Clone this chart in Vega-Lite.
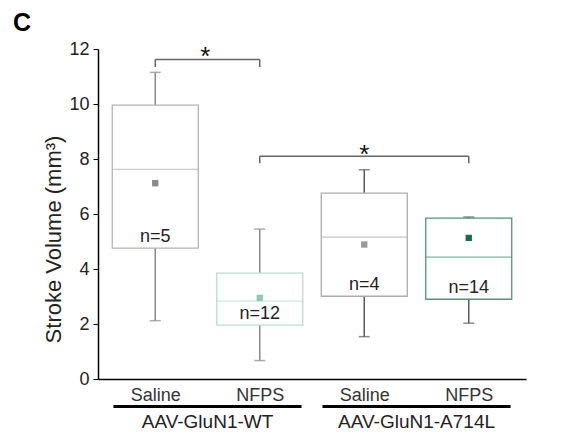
{
  "$schema": "https://vega.github.io/schema/vega-lite/v6.json",
  "autosize": "none",
  "width": 428,
  "height": 330,
  "padding": {"left": 98, "top": 49, "right": 47, "bottom": 57},
  "background": "white",
  "title": {"text": "C", "anchor": "start", "frame": "group", "dx": -85, "offset": 4, "fontSize": 25, "fontWeight": "bold", "font": "Liberation Sans", "color": "black"},
  "config": {"view": {"stroke": null}, "font": "Liberation Sans", "axis": {"labelFontWeight": "normal"}},
  "datasets": {
    "boxes": [
      {"pos": 1, "cond": "WT-Saline", "q1": 4.76, "q3": 9.96, "median": 7.62, "mean": 7.12, "lo": 2.12, "hi": 11.15, "n": "n=5"},
      {"pos": 2, "cond": "WT-NFPS", "q1": 1.96, "q3": 3.85, "median": 2.83, "mean": 2.95, "lo": 0.67, "hi": 5.45, "n": "n=12"},
      {"pos": 3, "cond": "A714L-Saline", "q1": 3.01, "q3": 6.76, "median": 5.16, "mean": 4.89, "lo": 1.54, "hi": 7.61, "n": "n=4"},
      {"pos": 4, "cond": "A714L-NFPS", "q1": 2.9, "q3": 5.85, "median": 4.43, "mean": 5.13, "lo": 2.03, "hi": 5.89, "n": "n=14"}
    ],
    "brackets": [
      {"x1": 1, "x2": 2, "y1": 11.62, "y2": 11.62},
      {"x1": 1, "x2": 1, "y1": 11.62, "y2": 11.35},
      {"x1": 2, "x2": 2, "y1": 11.62, "y2": 11.35},
      {"x1": 2, "x2": 4, "y1": 8.1, "y2": 8.1},
      {"x1": 2, "x2": 2, "y1": 8.1, "y2": 7.85},
      {"x1": 4, "x2": 4, "y1": 8.1, "y2": 7.85}
    ],
    "stars": [
      {"x": 1.48, "y": 11.42, "t": "*"},
      {"x": 3.0, "y": 7.85, "t": "*"}
    ],
    "groups": [
      {"x1": 0.6, "x2": 2.4, "y": -1.0, "xc": 1.5, "yl": -1.55, "label": "AAV-GluN1-WT"},
      {"x1": 2.6, "x2": 4.4, "y": -1.0, "xc": 3.5, "yl": -1.55, "label": "AAV-GluN1-A714L"}
    ]
  },
  "resolve": {"scale": {"color": "independent", "stroke": "independent"}},
  "layer": [
    {
      "data": {"name": "boxes"},
      "mark": {"type": "rule", "strokeWidth": 1.5},
      "encoding": {
        "x": {"field": "pos", "type": "quantitative", "scale": {"domain": [0.5, 4.5], "nice": false, "zero": false},
          "axis": {"values": [1, 2, 3, 4], "labelExpr": "datum.value % 2 == 1 ? 'Saline' : 'NFPS'", "ticks": false, "grid": false, "domainColor": "black", "domainWidth": 1.5, "labelFontSize": 18, "labelColor": "#333", "labelPadding": 7, "title": null}},
        "y": {"field": "lo", "type": "quantitative", "scale": {"domain": [0, 12], "nice": false},
          "axis": {"values": [0, 1, 2, 3, 4, 5, 6, 7, 8, 9, 10, 11, 12], "labelExpr": "datum.value % 2 == 0 ? datum.label : ''", "tickSize": 5, "tickColor": "black", "domainColor": "black", "domainWidth": 1.5, "grid": false, "labelFontSize": 18, "labelColor": "#222", "labelPadding": 4, "title": "Stroke Volume (mm³)", "titleFontSize": 22, "titleFontWeight": "normal", "titleColor": "#222", "titlePadding": 3, "titleY": 190}},
        "y2": {"field": "q1"},
        "color": {"field": "cond", "type": "nominal", "legend": null,
          "scale": {"domain": ["WT-Saline", "WT-NFPS", "A714L-Saline", "A714L-NFPS"], "range": ["#8a8a8a", "#8a8a8a", "#5a5a5a", "#5a5a5a"]}}
      }
    },
    {
      "data": {"name": "boxes"},
      "mark": {"type": "rule", "strokeWidth": 1.5},
      "encoding": {
        "x": {"field": "pos", "type": "quantitative", "scale": {"domain": [0.5, 4.5], "nice": false, "zero": false}},
        "y": {"field": "q3", "type": "quantitative", "scale": {"domain": [0, 12], "nice": false}},
        "y2": {"field": "hi"},
        "color": {"field": "cond", "type": "nominal", "legend": null,
          "scale": {"domain": ["WT-Saline", "WT-NFPS", "A714L-Saline", "A714L-NFPS"], "range": ["#8a8a8a", "#8a8a8a", "#5a5a5a", "#5a5a5a"]}}
      }
    },
    {
      "data": {"name": "boxes"},
      "transform": [{"fold": ["lo", "hi"], "as": ["k", "v"]}],
      "mark": {"type": "tick", "orient": "horizontal", "size": 11, "thickness": 1.5},
      "encoding": {
        "x": {"field": "pos", "type": "quantitative", "scale": {"domain": [0.5, 4.5], "nice": false, "zero": false}},
        "y": {"field": "v", "type": "quantitative", "scale": {"domain": [0, 12], "nice": false}},
        "color": {"field": "cond", "type": "nominal", "legend": null,
          "scale": {"domain": ["WT-Saline", "WT-NFPS", "A714L-Saline", "A714L-NFPS"], "range": ["#8a8a8a", "#8a8a8a", "#5a5a5a", "#5a5a5a"]}}
      }
    },
    {
      "data": {"name": "boxes"},
      "mark": {"type": "bar", "size": 86, "fill": "white", "strokeWidth": 1.3},
      "encoding": {
        "x": {"field": "pos", "type": "quantitative", "scale": {"domain": [0.5, 4.5], "nice": false, "zero": false}},
        "y": {"field": "q1", "type": "quantitative", "scale": {"domain": [0, 12], "nice": false}},
        "y2": {"field": "q3"},
        "stroke": {"field": "cond", "type": "nominal", "legend": null,
          "scale": {"domain": ["WT-Saline", "WT-NFPS", "A714L-Saline", "A714L-NFPS"], "range": ["#b4b4b4", "#b9ddd0", "#ababab", "#4f9678"]}}
      }
    },
    {
      "data": {"name": "boxes"},
      "mark": {"type": "tick", "orient": "horizontal", "size": 86, "thickness": 1.3},
      "encoding": {
        "x": {"field": "pos", "type": "quantitative", "scale": {"domain": [0.5, 4.5], "nice": false, "zero": false}},
        "y": {"field": "median", "type": "quantitative", "scale": {"domain": [0, 12], "nice": false}},
        "color": {"field": "cond", "type": "nominal", "legend": null,
          "scale": {"domain": ["WT-Saline", "WT-NFPS", "A714L-Saline", "A714L-NFPS"], "range": ["#b4b4b4", "#b9ddd0", "#ababab", "#4f9678"]}}
      }
    },
    {
      "data": {"name": "boxes"},
      "mark": {"type": "square", "size": 40, "opacity": 1},
      "encoding": {
        "x": {"field": "pos", "type": "quantitative", "scale": {"domain": [0.5, 4.5], "nice": false, "zero": false}},
        "y": {"field": "mean", "type": "quantitative", "scale": {"domain": [0, 12], "nice": false}},
        "color": {"field": "cond", "type": "nominal", "legend": null,
          "scale": {"domain": ["WT-Saline", "WT-NFPS", "A714L-Saline", "A714L-NFPS"], "range": ["#8a8a8a", "#8fcab3", "#9a9a9a", "#1c6b48"]}}
      }
    },
    {
      "data": {"name": "boxes"},
      "mark": {"type": "text", "fontSize": 18, "baseline": "middle", "dy": -11, "color": "#222"},
      "encoding": {
        "x": {"field": "pos", "type": "quantitative", "scale": {"domain": [0.5, 4.5], "nice": false, "zero": false}},
        "y": {"field": "q1", "type": "quantitative", "scale": {"domain": [0, 12], "nice": false}},
        "text": {"field": "n"}
      }
    },
    {
      "data": {"name": "brackets"},
      "mark": {"type": "rule", "strokeWidth": 1.5, "color": "#666"},
      "encoding": {
        "x": {"field": "x1", "type": "quantitative", "scale": {"domain": [0.5, 4.5], "nice": false, "zero": false}},
        "x2": {"field": "x2"},
        "y": {"field": "y1", "type": "quantitative", "scale": {"domain": [0, 12], "nice": false}},
        "y2": {"field": "y2"}
      }
    },
    {
      "data": {"name": "stars"},
      "mark": {"type": "text", "fontSize": 26, "baseline": "alphabetic", "color": "#111"},
      "encoding": {
        "x": {"field": "x", "type": "quantitative", "scale": {"domain": [0.5, 4.5], "nice": false, "zero": false}},
        "y": {"field": "y", "type": "quantitative", "scale": {"domain": [0, 12], "nice": false}},
        "text": {"field": "t"}
      }
    },
    {
      "data": {"name": "groups"},
      "mark": {"type": "rule", "strokeWidth": 3, "color": "black"},
      "encoding": {
        "x": {"field": "x1", "type": "quantitative", "scale": {"domain": [0.5, 4.5], "nice": false, "zero": false}},
        "x2": {"field": "x2"},
        "y": {"field": "y", "type": "quantitative", "scale": {"domain": [0, 12], "nice": false}}
      }
    },
    {
      "data": {"name": "groups"},
      "mark": {"type": "text", "fontSize": 19, "baseline": "middle", "color": "#222"},
      "encoding": {
        "x": {"field": "xc", "type": "quantitative", "scale": {"domain": [0.5, 4.5], "nice": false, "zero": false}},
        "y": {"field": "yl", "type": "quantitative", "scale": {"domain": [0, 12], "nice": false}},
        "text": {"field": "label"}
      }
    }
  ]
}
